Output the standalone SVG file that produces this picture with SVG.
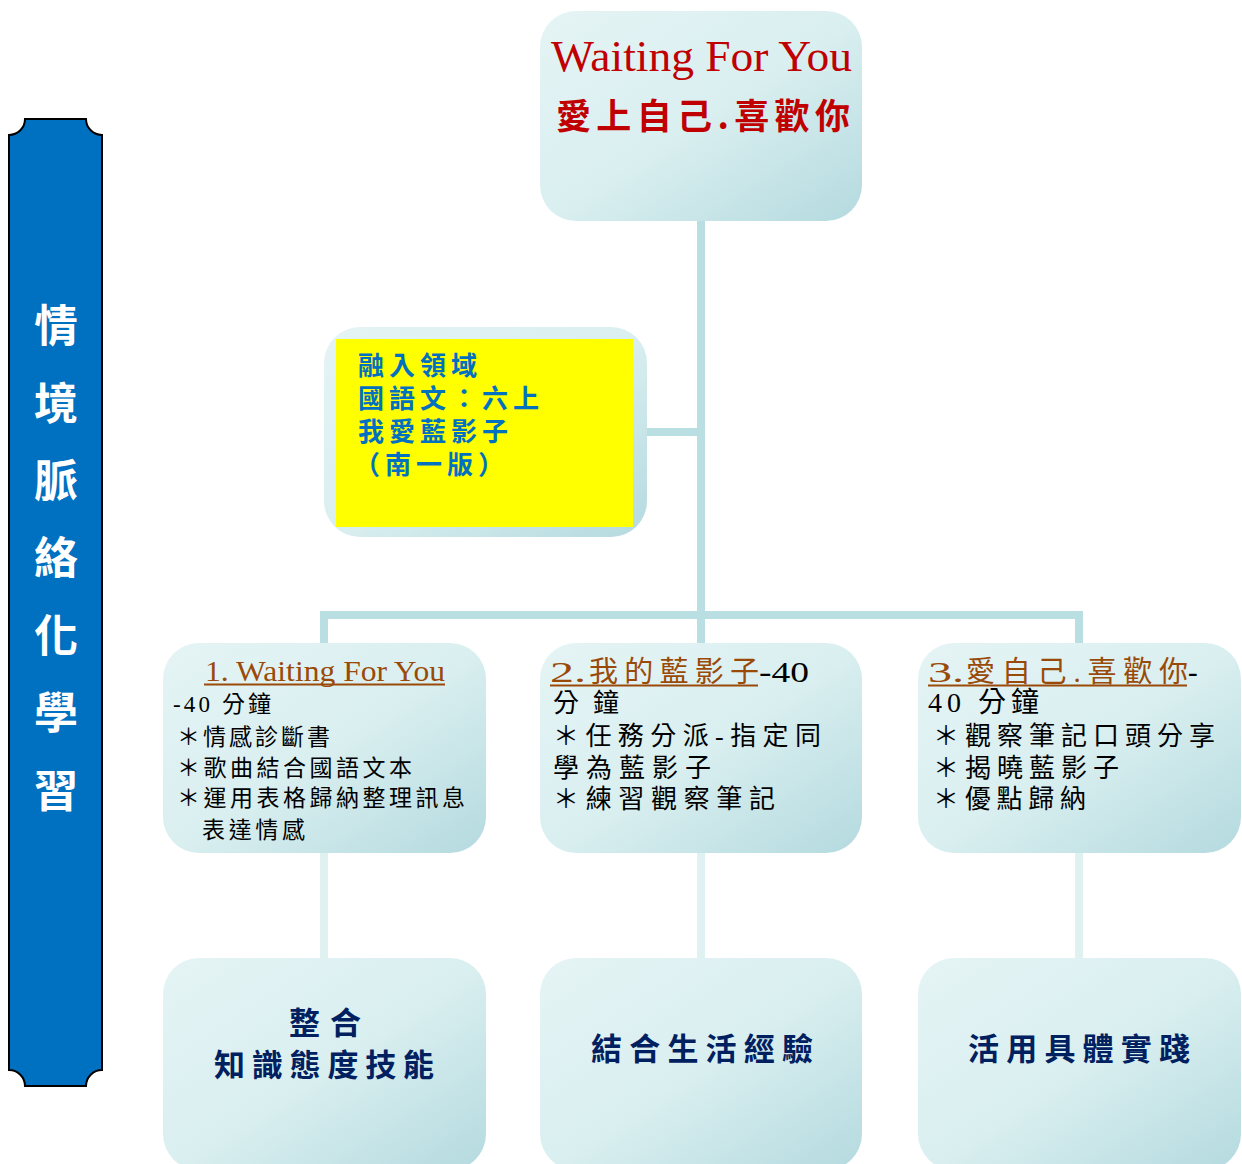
<svg xmlns="http://www.w3.org/2000/svg" width="1242" height="1164" viewBox="0 0 1242 1164">
<defs>
<linearGradient id="g" x1="0" y1="0" x2="1" y2="1">
<stop offset="0" stop-color="#e5f4f5"/>
<stop offset="0.5" stop-color="#daeff0"/>
<stop offset="1" stop-color="#b4dadf"/>
</linearGradient>
</defs>
<style>
.node{fill:url(#g);}
.cj{font-family:"Noto Sans CJK TC","Noto Sans CJK SC",sans-serif;}
.mx{font-family:"Liberation Serif","Noto Sans CJK TC","Noto Sans CJK SC",serif;}
.body{fill:#000;}
.brown{fill:#9a4a08;}
.ul{stroke:#9a4a08;stroke-width:2;}
.yl{fill:#0070c0;font-weight:bold;font-size:26px;letter-spacing:5px;}
.bt{fill:#002060;font-weight:bold;font-size:31px;}
.ban{fill:#ffffff;font-weight:bold;font-size:44px;}
.c1{fill:none;stroke:#b9dfe2;stroke-width:8;}
.c2{fill:none;stroke:#e0f1f2;stroke-width:8;}
</style>
<rect width="1242" height="1164" fill="#ffffff"/>
<g id="connectors">
<path class="c1" d="M701,221 V643"/>
<path class="c1" d="M647,432 H701"/>
<path class="c1" d="M324,643 V615 H1079 V643"/>
<path class="c2" d="M324,852 V958"/>
<path class="c2" d="M701,852 V958"/>
<path class="c2" d="M1079,852 V958"/>
</g>
<g id="banner">
<path d="M25,119 H86 A16,16 0 0 0 102,135 V1070 A16,16 0 0 0 86,1086 H25 A16,16 0 0 0 9,1070 V135 A16,16 0 0 0 25,119 Z" fill="#0070c0" stroke="#000" stroke-width="2"/>
<g class="cj ban" text-anchor="middle">
<text x="56" y="342">情</text>
<text x="56" y="420">境</text>
<text x="56" y="497">脈</text>
<text x="56" y="574">絡</text>
<text x="56" y="652">化</text>
<text x="56" y="729">學</text>
<text x="56" y="807">習</text>
</g>
</g>
<g id="top">
<rect class="node" x="540" y="11" width="322" height="210" rx="36"/>
<text x="551" y="71" font-family="'Liberation Serif',serif" font-size="44" fill="#c00000" textLength="301" lengthAdjust="spacingAndGlyphs">Waiting For You</text>
<text class="cj" x="556" y="129" font-size="35" font-weight="bold" fill="#c00000" textLength="294">愛上自己.喜歡你</text>
</g>
<g id="domain">
<rect class="node" x="324" y="327" width="323" height="210" rx="36"/>
<rect x="336" y="339" width="297" height="188" fill="#ffff00"/>
<g class="mx yl">
<text x="358" y="375">融入領域</text>
<text x="358" y="408">國語文：六上</text>
<text x="358" y="441">我愛藍影子</text>
<text x="354" y="474">（南一版）</text>
</g>
</g>
<g id="step1">
<rect class="node" x="163" y="643" width="323" height="210" rx="36"/>
<text class="mx brown" x="205" y="681" font-size="29" textLength="240" lengthAdjust="spacingAndGlyphs">1. Waiting For You</text>
<line class="ul" x1="204" y1="684.5" x2="445" y2="684.5"/>
<g class="mx body" font-size="23">
<text x="173" y="712" textLength="98">-40 分鐘</text>
<text x="177" y="745" textLength="153">＊情感診斷書</text>
<text x="177" y="776" textLength="235">＊歌曲結合國語文本</text>
<text x="177" y="806" textLength="288">＊運用表格歸納整理訊息</text>
<text x="202" y="838" textLength="103">表達情感</text>
</g>
</g>
<g id="step2">
<rect class="node" x="540" y="643" width="322" height="210" rx="36"/>
<text class="mx brown" x="550" y="682" font-size="29" textLength="36" lengthAdjust="spacingAndGlyphs">2.</text>
<text class="mx brown" x="589" y="682" font-size="29" textLength="170">我的藍影子</text>
<text class="mx body" x="759" y="682" font-size="29" textLength="50" lengthAdjust="spacingAndGlyphs">-40</text>
<line class="ul" x1="550" y1="685.5" x2="758" y2="685.5"/>
<g class="mx body" font-size="26">
<text x="553" y="712" textLength="66">分鐘</text>
<text x="553" y="745" textLength="268">＊任務分派-指定同</text>
<text x="553" y="777" textLength="158">學為藍影子</text>
<text x="553" y="808" textLength="222">＊練習觀察筆記</text>
</g>
</g>
<g id="step3">
<rect class="node" x="918" y="643" width="323" height="210" rx="36"/>
<text class="mx brown" x="928" y="682" font-size="29" textLength="36" lengthAdjust="spacingAndGlyphs">3.</text>
<text class="mx brown" x="966" y="682" font-size="29" textLength="222">愛自己.喜歡你</text>
<text class="mx body" x="1188" y="682" font-size="29" textLength="15">-</text>
<line class="ul" x1="928" y1="685.5" x2="1187" y2="685.5"/>
<g class="mx body" font-size="26">
<text x="928" y="712" font-size="28" textLength="111">40 分鐘</text>
<text x="933" y="745" textLength="282">＊觀察筆記口頭分享</text>
<text x="933" y="777" textLength="186">＊揭曉藍影子</text>
<text x="933" y="808" textLength="153">＊優點歸納</text>
</g>
</g>
<g id="out1">
<rect class="node" x="163" y="958" width="323" height="212" rx="36"/>
<g class="cj bt" text-anchor="middle">
<text x="325" y="1034" textLength="72">整合</text>
<text x="324" y="1076" textLength="220">知識態度技能</text>
</g>
</g>
<g id="out2">
<rect class="node" x="540" y="958" width="322" height="212" rx="36"/>
<text class="cj bt" x="702" y="1060" text-anchor="middle" textLength="222">結合生活經驗</text>
</g>
<g id="out3">
<rect class="node" x="918" y="958" width="323" height="212" rx="36"/>
<text class="cj bt" x="1079" y="1060" text-anchor="middle" textLength="222">活用具體實踐</text>
</g>
</svg>
